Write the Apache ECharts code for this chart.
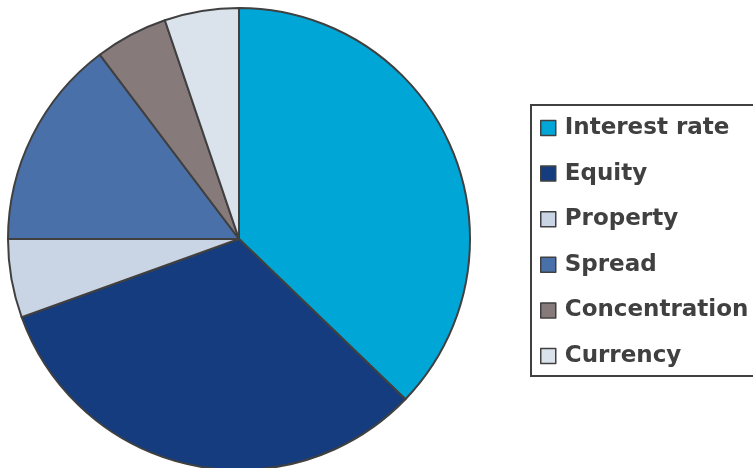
<!DOCTYPE html>
<html>
<head>
<meta charset="utf-8">
<style>
  html, body { margin: 0; padding: 0; background: #ffffff; }
  #chart { width: 753px; height: 468px; }
</style>
<script src="https://cdn.jsdelivr.net/npm/echarts@6/dist/echarts.min.js"></script>
</head>
<body>
<div id="chart"></div>
<script>
// Risk categories and their share of the total (%)
const categories = ['Interest rate', 'Equity', 'Property', 'Spread', 'Concentration', 'Currency'];
const shares = [37.2, 32.3, 5.5, 14.7, 5.1, 5.2];
const sliceColors = ['#00a6d6', '#153c7f', '#c9d5e4', '#4a70a9', '#877a7b', '#dae2ec'];

const chart = echarts.init(document.getElementById('chart'), null, { renderer: 'canvas' });

const outline = '#404040';

chart.setOption({
  animation: false,
  backgroundColor: '#ffffff',
  color: sliceColors,
  graphic: [{
    type: 'rect',
    z: 0,
    shape: { x: 531, y: 105, width: 240, height: 271 },
    style: { fill: '#ffffff', stroke: outline, lineWidth: 2 }
  }],
  legend: {
    orient: 'vertical',
    left: 535,
    top: 111.5,
    z: 5,
    icon: 'rect',
    itemWidth: 15,
    itemHeight: 15,
    itemGap: 22.6,
    itemStyle: { borderColor: outline, borderWidth: 1.5 },
    textStyle: {
      fontFamily: 'DejaVu Sans',
      fontWeight: 'bold',
      fontSize: 23,
      color: outline,
      padding: [0, 0, 0, 4]
    },
    data: categories
  },
  series: [{
    type: 'pie',
    center: [239, 239],
    radius: [0, 231],
    startAngle: 90,
    clockwise: true,
    label: { show: false },
    labelLine: { show: false },
    emphasis: { disabled: true },
    itemStyle: { borderColor: outline, borderWidth: 2 },
    data: categories.map((name, i) => ({ name, value: shares[i] }))
  }]
});
</script>
</body>
</html>
